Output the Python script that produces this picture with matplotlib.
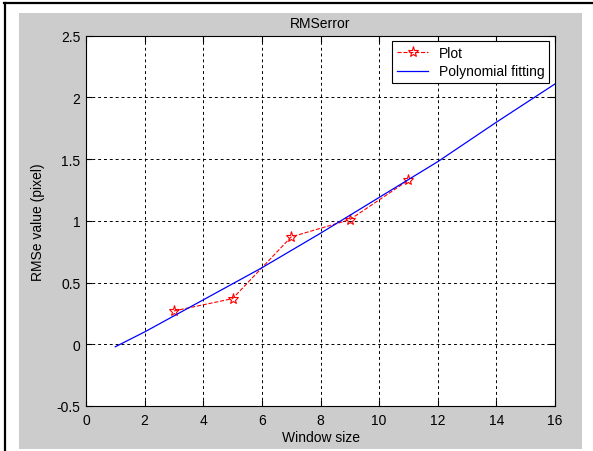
import matplotlib.pyplot as plt
from matplotlib.patches import Rectangle
from matplotlib.lines import Line2D

# measured RMS error for each window size
window_size = [3, 5, 7, 9, 11]
rmse = [0.27, 0.37, 0.87, 1.01, 1.33]

# points read along the fitted (slightly curved) line
fit_x = [1, 2, 4, 6, 8, 10, 12, 14, 16]
fit_y = [-0.02, 0.10, 0.36, 0.62, 0.90, 1.19, 1.48, 1.80, 2.11]

x_ticks = [0, 2, 4, 6, 8, 10, 12, 14, 16]
y_ticks = [-0.5, 0, 0.5, 1, 1.5, 2, 2.5]
y_labels = ["-0.5", "0", "0.5", "1", "1.5", "2", "2.5"]

plt.rcParams["font.family"] = ["Liberation Sans", "DejaVu Sans"]
plt.rcParams["font.size"] = 10

fig = plt.figure(figsize=(5.93, 4.52), dpi=100)
fig.patch.set_facecolor("white")

# grey figure area and the outer frame lines
fig.patches.append(Rectangle((0.032, 0.0044), 0.949, 0.965, transform=fig.transFigure,
                             facecolor="#cccccc", edgecolor="none", zorder=-10))
fig.lines.append(Line2D([0.0067, 1.0], [0.991, 0.991], transform=fig.transFigure,
                        color="black", linewidth=1.6, zorder=-10))
fig.lines.append(Line2D([0.0084, 0.0084], [0.0, 0.991], transform=fig.transFigure,
                        color="black", linewidth=1.6, zorder=-10))

ax = fig.add_axes([0.145, 0.0996, 0.791, 0.819])
ax.set_facecolor("white")

ax.plot(window_size, rmse, color="red", linestyle="--", linewidth=0.8,
        marker="*", markersize=8, markerfacecolor="none", markeredgecolor="red",
        markeredgewidth=0.8, label="Plot")
ax.plot(fit_x, fit_y, color="blue", linewidth=0.9, label="Polynomial fitting")

ax.set_xlim(0, 16)
ax.set_ylim(-0.5, 2.5)
ax.set_xticks(x_ticks)
ax.set_yticks(y_ticks)
ax.set_yticklabels(y_labels)
ax.tick_params(direction="in", length=4, top=True, right=True, colors="black",
               labelsize=10)
ax.tick_params(axis="x", pad=5)
ax.tick_params(axis="y", pad=4)
ax.grid(True, color="black", linestyle=(0, (3, 3)), linewidth=0.7)
for s in ax.spines.values():
    s.set_linewidth(0.8)
    s.set_color("black")

ax.set_title("RMSerror", fontsize=10, pad=6)
ax.set_xlabel("Window size", labelpad=2)
ax.set_ylabel("RMSe value (pixel)", labelpad=8)

leg = ax.legend(loc="upper right", fancybox=False, framealpha=1, edgecolor="black",
                borderaxespad=0.4, handlelength=2.2, handletextpad=0.8,
                borderpad=0.35, labelspacing=0.3, fontsize=10)
leg.get_frame().set_linewidth(0.8)

fig.savefig("out.png", dpi=100)
